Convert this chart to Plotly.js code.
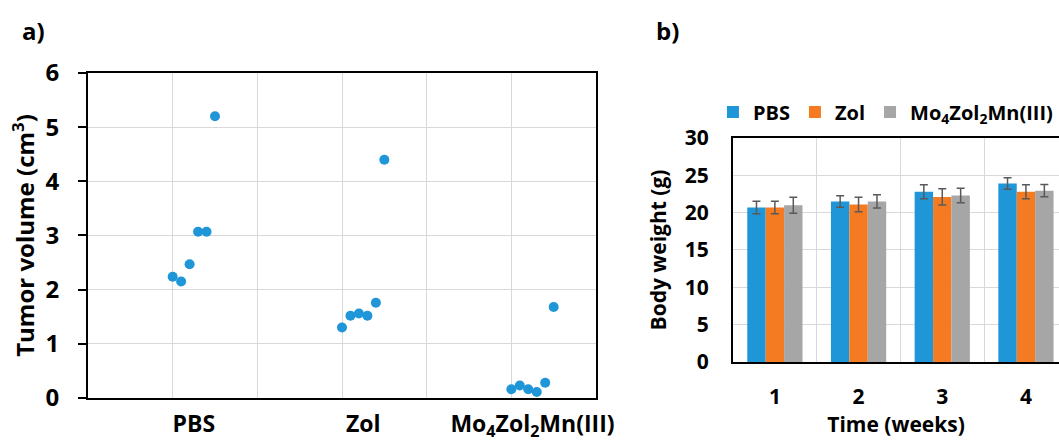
<!DOCTYPE html>
<html><head><meta charset="utf-8">
<script src="https://cdn.plot.ly/plotly-3.0.1.min.js"></script>
<style>html,body{margin:0;padding:0;background:#fff;overflow:hidden}#chart{width:1059px;height:444px}</style>
</head><body><div id="chart"></div>
<script>
// ---- panel a) data ----
const groupNames = ['PBS', 'Zol', 'Mo<sub>4</sub>Zol<sub>2</sub>Mn(III)'];
const groupPos = [1, 3, 5];
const volPBS = [2.24, 2.15, 2.47, 3.07, 3.07, 5.20];
const volZol = [1.30, 1.52, 1.56, 1.52, 1.76, 4.40];
const volMo  = [0.16, 0.23, 0.16, 0.11, 0.28, 1.68];
const jitterStep = 0.1;

// ---- panel b) data ----
const weeks = [1, 2, 3, 4];
const weekLabels = ['1', '2', '3', '4'];
const wPBS = [20.7, 21.5, 22.8, 23.9];
const wZol = [20.7, 21.1, 22.1, 22.8];
const wMo  = [21.0, 21.5, 22.3, 22.95];
const ePBS = [0.83, 0.76, 0.94, 0.78];
const eZol = [0.83, 0.98, 1.09, 0.94];
const eMo  = [1.07, 0.89, 0.98, 0.83];
const seriesNames = ['PBS', 'Zol', 'Mo<sub>4</sub>Zol<sub>2</sub>Mn(III)'];

const FONT = 'Open Sans, Noto Sans, sans-serif';
const BLUE = '#1e96d8', ORANGE = '#f47b22', GRAY = '#a6a6a6';
const GRID = '#d9d9d9';

const vols = [volPBS, volZol, volMo];
const xs = [], ys = [];
vols.forEach((arr, g) => arr.forEach((v, i) => { xs.push(groupPos[g] + i * jitterStep); ys.push(v); }));

const traces = [
  {type: 'scatter', mode: 'markers', x: xs, y: ys, xaxis: 'x', yaxis: 'y',
   marker: {color: BLUE, size: 10}, showlegend: false, hoverinfo: 'y'},
  {type: 'scatter', mode: 'markers', x: [groupPos[0]], y: [null], xaxis: 'x3', yaxis: 'y',
   showlegend: false, hoverinfo: 'skip'},
  {type: 'bar', name: seriesNames[0], x: weeks, y: wPBS, xaxis: 'x2', yaxis: 'y2',
   marker: {color: BLUE}, error_y: {type: 'data', array: ePBS, color: '#595959', thickness: 1.5, width: 4}},
  {type: 'bar', name: seriesNames[1], x: weeks, y: wZol, xaxis: 'x2', yaxis: 'y2',
   marker: {color: ORANGE}, error_y: {type: 'data', array: eZol, color: '#595959', thickness: 1.5, width: 4}},
  {type: 'bar', name: seriesNames[2], x: weeks, y: wMo, xaxis: 'x2', yaxis: 'y2',
   marker: {color: GRAY}, error_y: {type: 'data', array: eMo, color: '#595959', thickness: 1.5, width: 4}},
  {type: 'scatter', mode: 'markers', x: [weeks[0]], y: [null], xaxis: 'x4', yaxis: 'y2',
   showlegend: false, hoverinfo: 'skip'}
];

const tfA = {family: FONT, size: 24, color: '#000', weight: 'bold'};
const tfAc = {family: FONT, size: 23, color: '#000', weight: 'bold'};
const tfB = {family: FONT, size: 21, color: '#000', weight: 'bold'};

const layout = {
  width: 1059, height: 444,
  margin: {l: 0, r: 0, t: 0, b: 0, autoexpand: false},
  paper_bgcolor: '#fff', plot_bgcolor: '#fff',
  font: {family: FONT, color: '#000', weight: 'bold'},
  showlegend: true,
  barmode: 'group', bargap: 0.34, bargroupgap: 0,
  legend: {orientation: 'h', x: 0.999, xanchor: 'right', y: 0.748, yanchor: 'middle',
           font: {family: FONT, size: 20, color: '#000', weight: 'bold'}, itemwidth: 30, traceorder: 'normal'},
  xaxis: {domain: [0.0831, 0.5628], range: [0, 6], anchor: 'y', dtick: 1, tick0: 0,
          showgrid: true, gridcolor: GRID, gridwidth: 1, showticklabels: false, zeroline: false,
          showline: true, mirror: true, linecolor: '#000', linewidth: 2, ticks: '', fixedrange: true},
  xaxis3: {overlaying: 'x', anchor: 'y', range: [0, 6], tickmode: 'array',
           tickvals: groupPos.map(p => p + 0.25), ticktext: groupNames,
           showgrid: false, showline: false, zeroline: false, ticks: '', tickfont: tfAc, ticklabelstandoff: 10},
  yaxis: {domain: [0.1036, 0.8356], range: [0, 6], anchor: 'x', dtick: 1, tick0: 0,
          showgrid: true, gridcolor: GRID, gridwidth: 1, zeroline: false,
          showline: true, mirror: true, linecolor: '#000', linewidth: 2,
          ticks: 'outside', ticklen: 8, tickwidth: 2, tickcolor: '#000', tickfont: tfA, ticklabelstandoff: 14,
          title: {text: 'Tumor volume (cm<sup>3</sup>)', font: tfA, standoff: 4}},
  xaxis2: {domain: [0.6922, 1], range: [0.5, 4.395], anchor: 'y2', tickmode: 'array',
           tickvals: weeks, ticktext: weekLabels, showgrid: false, zeroline: false,
           showline: true, mirror: true, linecolor: '#000', linewidth: 2, ticks: '',
           tickfont: tfB, ticklabelstandoff: 15,
           title: {text: 'Time (weeks)', font: tfB, standoff: 0}},
  xaxis4: {overlaying: 'x2', anchor: 'y2', range: [0.5, 4.395], tickmode: 'array',
           tickvals: [1.5, 2.5, 3.5], showgrid: true, gridcolor: GRID, gridwidth: 1,
           showticklabels: false, showline: false, zeroline: false, ticks: ''},
  yaxis2: {domain: [0.1847, 0.6892], range: [0, 30], anchor: 'x2', dtick: 5, tick0: 0,
           showgrid: true, gridcolor: GRID, gridwidth: 1, zeroline: false,
           showline: true, mirror: false, linecolor: '#000', linewidth: 2, ticks: '',
           tickfont: tfB, ticklabelstandoff: 18,
           title: {text: 'Body weight (g)', font: tfB, standoff: 12}},
  annotations: [
    {text: 'a)', xref: 'paper', yref: 'paper', x: 0.019, y: 0.932, xanchor: 'left', yanchor: 'middle',
     showarrow: false, font: {family: FONT, size: 24, color: '#000', weight: 'bold'}},
    {text: 'b)', xref: 'paper', yref: 'paper', x: 0.618, y: 0.932, xanchor: 'left', yanchor: 'middle',
     showarrow: false, font: {family: FONT, size: 24, color: '#000', weight: 'bold'}}
  ]
};

Plotly.newPlot('chart', traces, layout, {displayModeBar: false, staticPlot: true});
</script>
</body></html>
